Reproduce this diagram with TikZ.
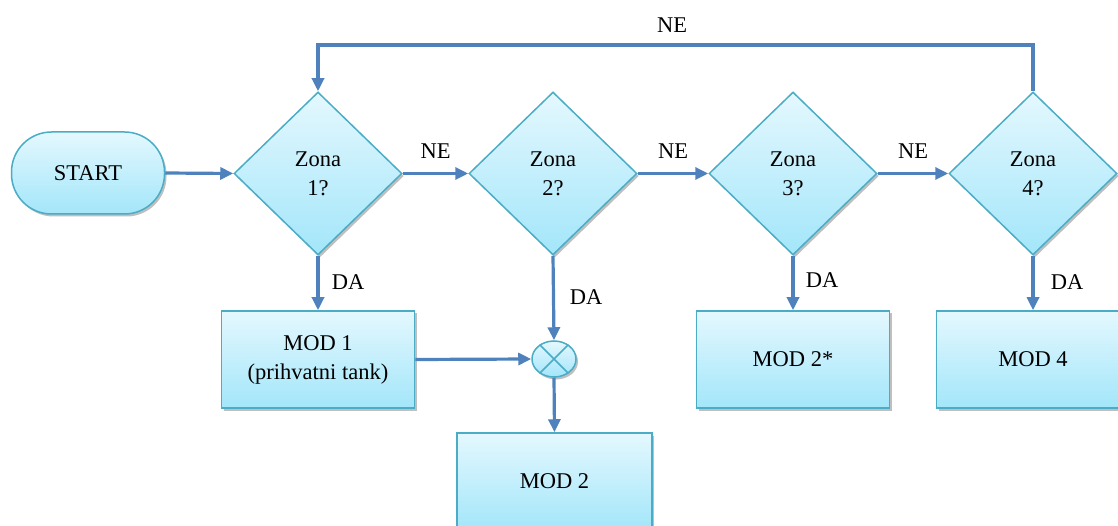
\documentclass[tikz,border=0pt]{standalone}
\usepackage{fontspec}
\setmainfont{Liberation Serif}
\usetikzlibrary{shapes.geometric,arrows.meta,shadows}
\definecolor{flowblue}{HTML}{4F81BD}
\definecolor{edgeteal}{HTML}{4BACC6}
\definecolor{filltop}{HTML}{E4F8FE}
\definecolor{fillbot}{HTML}{A3E6FA}
\tikzset{
  shp/.style={draw=edgeteal, line width=1.5pt, top color=filltop, bottom color=fillbot,
    drop shadow={shadow xshift=2pt, shadow yshift=-2.5pt, opacity=0.25, fill=black},
    font=\fontsize{22.5}{29}\selectfont, align=center, inner sep=0pt},
  procbox/.style={shp, rectangle, minimum width=193pt, minimum height=97pt},
  decbox/.style={shp, diamond, minimum width=168pt, minimum height=163pt},
  termbox/.style={shp, rectangle, rounded corners=40pt, minimum width=153pt, minimum height=82pt},
  mergebox/.style={shp, ellipse, minimum width=44pt, minimum height=36pt},
  flow/.style={draw=flowblue, line width=3.2pt, -{Triangle[length=13pt,width=12pt]}},
  lbl/.style={font=\fontsize{22.5}{26}\selectfont, inner sep=0pt}
}
\begin{document}
\begin{tikzpicture}[x=1pt,y=-1pt]
\useasboundingbox (0,0) rectangle (1118,526);
\node[termbox] (start) at (88,173) {START};
\node[decbox] (z1) at (318,173.5) {Zona\\1?};
\node[decbox] (z2) at (553,173.5) {Zona\\2?};
\node[decbox] (z3) at (793,173.5) {Zona\\3?};
\node[decbox] (z4) at (1033,173.5) {Zona\\4?};
\node[procbox] (m1) at (318,359.5) {MOD 1\\(prihvatni tank)};
\node[mergebox] (mg) at (554,359) {};
\draw[edgeteal, line width=1.5pt] (mg.45) -- (mg.225) (mg.135) -- (mg.315);
\node[procbox, minimum width=195pt] (m2) at (554.5,481.5) {MOD 2};
\node[procbox] (m2s) at (793,359.5) {MOD 2*};
\node[procbox] (m4) at (1033,359.5) {MOD 4};

\draw[flow] (start.east) -- (z1.west);
\draw[flow] (z1.east) -- node[lbl, above=13pt] (ne1) {NE} (z2.west);
\draw[flow] (z2.east) -- node[lbl, above=13pt] (ne2) {NE} (z3.west);
\draw[flow] (z3.east) -- node[lbl, above=13pt] (ne3) {NE} (z4.west);
\coordinate (tr) at (1033,45);
\coordinate (tl) at (318,45);
\draw[flow] (z4.north) -- (tr) -- (tl) -- (z1.north);
\node[lbl] (netop) at (672,25) {NE};
\draw[flow] (z1.south) -- (m1.north);
\node[lbl] (da1) at (348,282) {DA};
\draw[flow] (z2.south) -- (mg.north);
\node[lbl] (da2) at (586,297) {DA};
\draw[flow] (m1.east) -- (mg.west);
\draw[flow] (mg.south) -- (m2.north);
\draw[flow] (z3.south) -- (m2s.north);
\node[lbl] (da3) at (822,280) {DA};
\draw[flow] (z4.south) -- (m4.north);
\node[lbl] (da4) at (1067,282) {DA};
\end{tikzpicture}
\end{document}
